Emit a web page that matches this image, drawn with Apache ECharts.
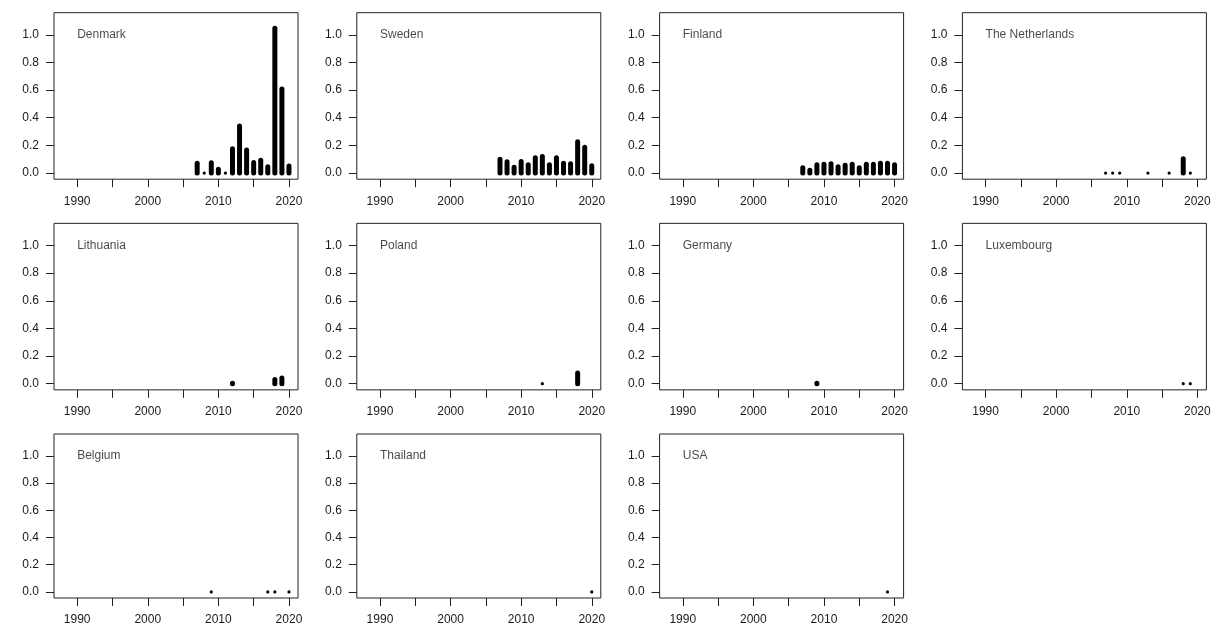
<!DOCTYPE html>
<html>
<head>
<meta charset="utf-8">
<script src="https://cdn.jsdelivr.net/npm/echarts@6/dist/echarts.min.js"></script>
<style>
html,body{margin:0;padding:0;background:#fff;}
#chart{width:1218px;height:626px;}
</style>
</head>
<body>
<div id="chart"></div>
<script>
// ---- data ----
const countries = ['Denmark','Sweden','Finland','The Netherlands','Lithuania','Poland','Germany','Luxembourg','Belgium','Thailand','USA'];

const yearsDenmark = [2007,2008,2009,2010,2011,2012,2013,2014,2015,2016,2017,2018,2019,2020];
const valuesDenmark = [0.07,0,0.075,0.027,0,0.176,0.34,0.167,0.077,0.092,0.046,1.048,0.608,0.05];

const yearsSweden = [2007,2008,2009,2010,2011,2012,2013,2014,2015,2016,2017,2018,2019,2020];
const valuesSweden = [0.099,0.082,0.041,0.084,0.06,0.11,0.12,0.06,0.11,0.07,0.067,0.227,0.186,0.053];

const yearsFinland = [2007,2008,2009,2010,2011,2012,2013,2014,2015,2016,2017,2018,2019,2020];
const valuesFinland = [0.039,0.02,0.06,0.063,0.068,0.046,0.056,0.063,0.039,0.063,0.063,0.07,0.07,0.06];

const yearsNetherlands = [2007,2008,2009,2013,2016,2018,2019];
const valuesNetherlands = [0,0,0,0,0,0.104,0];

const yearsLithuania = [2012,2018,2019];
const valuesLithuania = [0.003,0.03,0.041];

const yearsPoland = [2013,2018];
const valuesPoland = [0,0.077];

const yearsGermany = [2009];
const valuesGermany = [0.004];

const yearsLuxembourg = [2018,2019];
const valuesLuxembourg = [0,0];

const yearsBelgium = [2009,2017,2018,2020];
const valuesBelgium = [0,0,0,0];

const yearsThailand = [2020];
const valuesThailand = [0];

const yearsUSA = [2019];
const valuesUSA = [0];

const xTickValues = [1990,1995,2000,2005,2010,2015,2020];
const xLabelValues = [1990,2000,2010,2020];
const yTickValues = [0,0.2,0.4,0.6,0.8,1.0];

// ---- build ----
const seriesData = [
  [yearsDenmark, valuesDenmark],
  [yearsSweden, valuesSweden],
  [yearsFinland, valuesFinland],
  [yearsNetherlands, valuesNetherlands],
  [yearsLithuania, valuesLithuania],
  [yearsPoland, valuesPoland],
  [yearsGermany, valuesGermany],
  [yearsLuxembourg, valuesLuxembourg],
  [yearsBelgium, valuesBelgium],
  [yearsThailand, valuesThailand],
  [yearsUSA, valuesUSA]
];

const FONT = '"Liberation Sans", Arial, sans-serif';
const TXT = '#1a1a1a';
const grids = [], xAxes = [], yAxes = [], series = [];

countries.forEach(function (name, i) {
  const col = i % 4, row = Math.floor(i / 4);
  grids.push({
    left: 54 + col * 302.8,
    top: 12.7 + row * 210.65,
    width: 244,
    height: 166.5,
    show: true,
    borderColor: '#222',
    borderWidth: 1,
    backgroundColor: 'transparent',
    containLabel: false
  });
  xAxes.push({
    gridIndex: i,
    type: 'value',
    position: 'bottom',
    min: 1986.72,
    max: 2021.28,
    axisLine: { show: false, onZero: false },
    splitLine: { show: false },
    axisTick: { show: true, inside: false, length: 8, customValues: xTickValues, lineStyle: { color: '#222', width: 1 } },
    axisLabel: { customValues: xLabelValues, margin: 16, fontSize: 12, color: TXT, fontFamily: FONT,
      formatter: function (v) { return String(Math.round(v)); } }
  });
  yAxes.push({
    gridIndex: i,
    type: 'value',
    position: 'left',
    min: -0.0446,
    max: 1.16,
    axisLine: { show: false, onZero: false },
    splitLine: { show: false },
    axisTick: { show: true, inside: false, length: 8, customValues: yTickValues, lineStyle: { color: '#222', width: 1 } },
    axisLabel: { customValues: yTickValues, margin: 15, fontSize: 12, color: TXT, fontFamily: FONT,
      formatter: function (v) { return v.toFixed(1); } }
  });
  const yrs = seriesData[i][0], vals = seriesData[i][1];
  series.push({
    type: 'custom',
    xAxisIndex: i,
    yAxisIndex: i,
    silent: true,
    clip: false,
    data: yrs.map(function (y, k) { return [y, vals[k]]; }),
    renderItem: function (params, api) {
      const x = api.value(0), v = api.value(1);
      const p0 = api.coord([x, 0]);
      const p1 = api.coord([x, v]);
      if (v === 0) {
        return { type: 'circle', shape: { cx: p0[0], cy: p0[1], r: 1.6 }, style: { fill: '#000' } };
      }
      const w = 5;
      return {
        type: 'rect',
        shape: { x: p0[0] - w / 2, y: p1[1] - w / 2, width: w, height: (p0[1] - p1[1]) + w, r: w / 2 },
        style: { fill: '#000' }
      };
    }
  });
  series.push({
    type: 'scatter',
    xAxisIndex: i,
    yAxisIndex: i,
    silent: true,
    symbolSize: 1,
    itemStyle: { color: 'rgba(0,0,0,0)' },
    data: [[1990, 1.0]],
    label: {
      show: true,
      position: 'inside',
      align: 'left',
      verticalAlign: 'middle',
      formatter: name,
      fontSize: 12,
      color: TXT,
      fontFamily: FONT
    }
  });
});

const chart = echarts.init(document.getElementById('chart'), null, { renderer: 'canvas' });
chart.setOption({
  animation: false,
  backgroundColor: '#fff',
  grid: grids,
  xAxis: xAxes,
  yAxis: yAxes,
  series: series
});
</script>
</body>
</html>
